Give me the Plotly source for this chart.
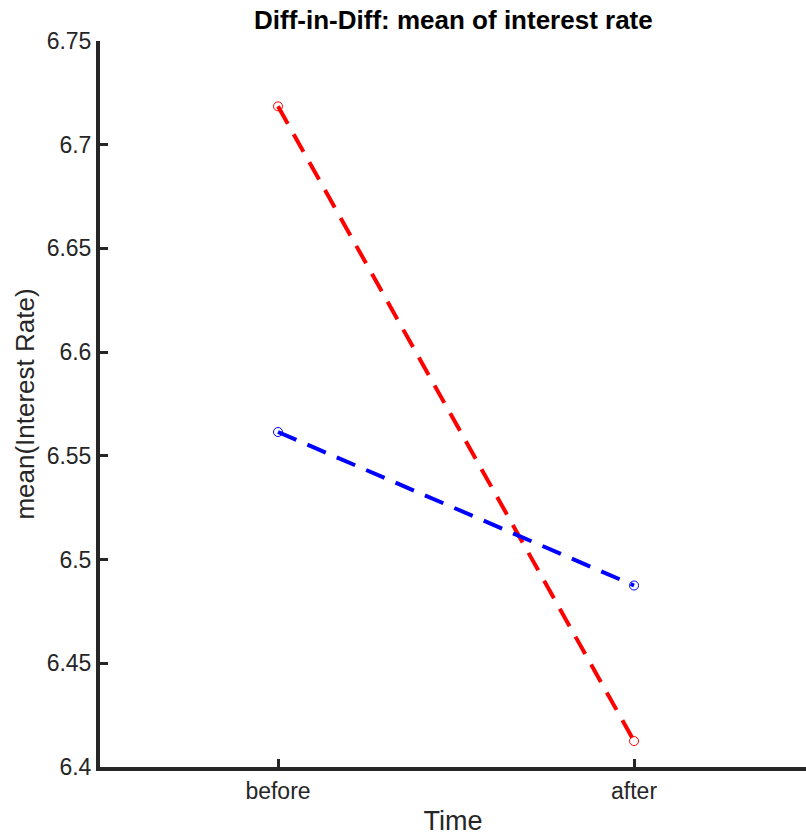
import plotly.graph_objects as go

categories = ["before", "after"]
x_pos = [1, 2]
treated = [6.7185, 6.4125]
control = [6.5615, 6.4875]
y_ticks = [6.4, 6.45, 6.5, 6.55, 6.6, 6.65, 6.7, 6.75]
y_tick_text = ["6.4", "6.45", "6.5", "6.55", "6.6", "6.65", "6.7", "6.75"]

fig = go.Figure()
for vals, col in [(treated, "#ff0000"), (control, "#0000ff")]:
    fig.add_trace(go.Scatter(
        x=x_pos, y=vals, mode="lines",
        line=dict(color=col, width=4, dash="20px,12px"),
        showlegend=False, hoverinfo="skip"))
    fig.add_trace(go.Scatter(
        x=x_pos, y=vals, mode="markers",
        marker=dict(symbol="circle-open", size=9, color=col, line=dict(width=1)),
        showlegend=False))

axis_col = "#262626"
fig.update_layout(
    width=806, height=836,
    margin=dict(l=100, r=0, t=41, b=69),
    paper_bgcolor="white", plot_bgcolor="white",
    font=dict(family="Liberation Sans, Arial, sans-serif", color=axis_col, size=23),
    title=dict(text="<b>Diff-in-Diff: mean of interest rate</b>", x=0.5625, xanchor="center",
               y=0.976, yanchor="middle", font=dict(size=26, color="#000000")),
    xaxis=dict(
        range=[0.5, 2.483], tickvals=x_pos, ticktext=categories,
        showline=True, linewidth=4, linecolor=axis_col,
        ticks="inside", ticklen=8, tickwidth=3, tickcolor=axis_col,
        showgrid=False, zeroline=False,
        title=dict(text="Time", font=dict(size=27), standoff=11)),
    yaxis=dict(
        range=[6.4, 6.75], tickvals=y_ticks, ticktext=y_tick_text,
        showline=True, linewidth=4, linecolor=axis_col,
        ticks="inside", ticklen=8, tickwidth=3, tickcolor=axis_col,
        showgrid=False, zeroline=False,
        title=dict(text="mean(Interest Rate)", font=dict(size=26), standoff=6)),
)

fig.write_html("out.html")
